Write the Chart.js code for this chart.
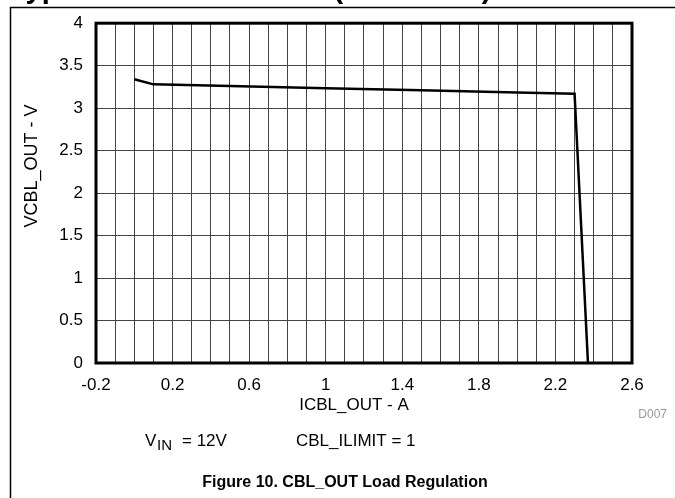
<!DOCTYPE html>
<html><head><meta charset="utf-8">
<script src="https://cdn.jsdelivr.net/npm/chart.js@4.4.0/dist/chart.umd.min.js"></script>
<style>html,body{margin:0;padding:0;background:#fff;overflow:hidden}#wrap{width:675px;height:498px;position:relative}</style>
</head><body><div id="wrap"><canvas id="c" width="675" height="498"></canvas></div>
<script>
// Data
const currentA = [0, 0.1, 0.5, 1.0, 1.5, 2.0, 2.3, 2.37];
const voltageV = [3.34, 3.28, 3.26, 3.235, 3.21, 3.185, 3.17, 0];
const xTickLabels = ['-0.2', '0.2', '0.6', '1', '1.4', '1.8', '2.2', '2.6'];
const yTickLabels = ['0', '0.5', '1', '1.5', '2', '2.5', '3', '3.5', '4'];
const xAxisTitle = 'ICBL_OUT - A';
const yAxisTitle = 'VCBL_OUT - V';
const heading = 'Typical Characteristics (continued)';
const caption = 'Figure 10. CBL_OUT Load Regulation';
const noteIlimit = 'CBL_ILIMIT = 1';
const graphId = 'D007';

const FONT = "'Liberation Sans', Arial, sans-serif";

const decor = {
  id: 'decor',
  afterDraw(chart) {
    const ctx = chart.ctx, a = chart.chartArea;
    ctx.save();
    // plot frame
    ctx.strokeStyle = '#000'; ctx.lineWidth = 3;
    ctx.strokeRect(a.left, a.top, a.right - a.left, a.bottom - a.top);
    // page frame
    ctx.lineWidth = 1.5;
    ctx.beginPath(); ctx.moveTo(10.5, 498); ctx.lineTo(10.5, 7.5); ctx.lineTo(675, 7.5); ctx.stroke();
    // heading (cut off at top)
    ctx.fillStyle = '#000';
    ctx.font = 'bold 29px ' + FONT; ctx.textAlign = 'left'; ctx.textBaseline = 'alphabetic';
    ctx.fillText(heading, 10, -2);
    // axis titles
    ctx.font = '17px ' + FONT; ctx.textAlign = 'center'; ctx.textBaseline = 'middle';
    ctx.fillText(xAxisTitle, 354, 405);
    ctx.font = '18px ' + FONT;
    ctx.save(); ctx.translate(32, 166); ctx.rotate(-Math.PI / 2); ctx.fillText(yAxisTitle, 0, 0); ctx.restore();
    // graph id
    ctx.fillStyle = '#999'; ctx.font = '12px ' + FONT; ctx.textAlign = 'right';
    ctx.fillText(graphId, 667, 415);
    // conditions
    ctx.fillStyle = '#000'; ctx.textAlign = 'left'; ctx.textBaseline = 'alphabetic';
    const by = 446, vx = 145;
    ctx.font = '17px ' + FONT;
    ctx.fillText('V', vx, by);
    ctx.font = '15px ' + FONT; ctx.fillText('IN', vx + 12, by + 4);
    ctx.font = '17px ' + FONT; ctx.fillText('= 12V', vx + 37, by);
    ctx.fillText(noteIlimit, 296, by);
    // caption
    ctx.font = 'bold 16px ' + FONT; ctx.textAlign = 'center';
    ctx.fillText(caption, 345, 487);
    ctx.restore();
  }
};

new Chart(document.getElementById('c'), {
  type: 'scatter',
  data: {
    datasets: [{
      data: currentA.map((x, i) => ({ x: x, y: voltageV[i] })),
      showLine: true, borderColor: '#000', borderWidth: 2.5,
      pointRadius: 0, tension: 0, fill: false
    }]
  },
  options: {
    responsive: false, animation: false, devicePixelRatio: 1,
    layout: { padding: { top: 20, left: 0, right: 43, bottom: 0 } },
    plugins: { legend: { display: false }, tooltip: { enabled: false } },
    scales: {
      x: {
        type: 'linear', min: -0.2, max: 2.6,
        afterFit: s => { s.height = 135; },
        border: { display: false },
        grid: { color: '#444', lineWidth: 1, drawTicks: false },
        ticks: {
          stepSize: 0.1, autoSkip: false, maxRotation: 0, minRotation: 0, padding: 12,
          color: '#000', font: { family: FONT, size: 17 },
          callback: v => { const n = Math.round((v + 0.2) * 10); return n % 4 === 0 ? xTickLabels[n / 4] : ''; }
        }
      },
      y: {
        type: 'linear', min: 0, max: 4,
        afterFit: s => { s.width = 96; },
        border: { display: false },
        grid: { color: '#444', lineWidth: 1, drawTicks: false },
        ticks: {
          stepSize: 0.5, autoSkip: false, padding: 13,
          color: '#000', font: { family: FONT, size: 17 },
          callback: v => yTickLabels[Math.round(v * 2)]
        }
      }
    }
  },
  plugins: [decor]
});
</script></body></html>
